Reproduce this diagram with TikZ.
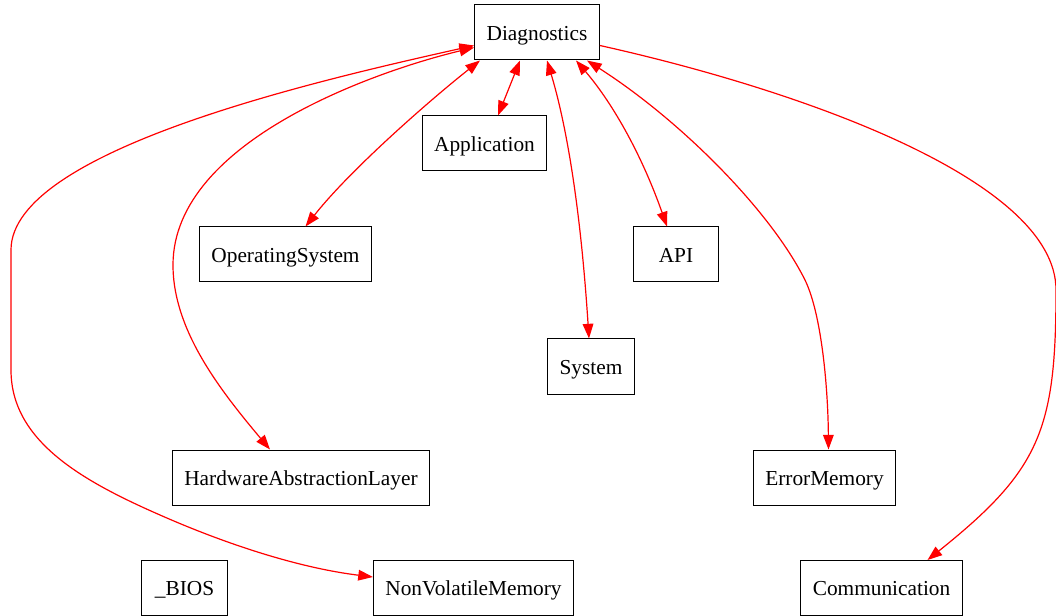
\documentclass[tikz,border=0pt]{standalone}
\usepackage{fontspec}
\setmainfont{Liberation Serif}
\usetikzlibrary{arrows.meta,calc}

\begin{document}
\begin{tikzpicture}[x=0.75pt,y=-0.75pt,
    blk/.style={draw,line width=0.75pt,minimum height=41.25pt,minimum width=64pt,inner xsep=9pt,text height=11.5pt,text depth=0pt,font=\fontsize{16}{19}\selectfont},
    link/.style={red,line width=0.9pt,-{Triangle[length=11pt,width=8pt]}},
    both/.style={link,{Triangle[length=11pt,width=8pt]}-{Triangle[length=11pt,width=8pt]}}]
  \useasboundingbox (0,0) rectangle (1056,616);
  \node[blk] (diag) at (537,32.5) {Diagnostics};
  \node[blk] (app) at (484.5,143.5) {Application};
  \node[blk] (os) at (285.5,254.5) {OperatingSystem};
  \node[blk] (api) at (676,254.5) {API};
  \node[blk] (sys) at (591,366.5) {System};
  \node[blk] (hal) at (301,477.5) {HardwareAbstractionLayer};
  \node[blk] (errmem) at (824.5,477.5) {ErrorMemory};
  \node[blk] (bios) at (184.5,588) {\_BIOS};
  \node[blk] (nvm) at (473.5,588) {NonVolatileMemory};
  \node[blk] (comm) at (881.5,588) {Communication};
  % edges out of Diagnostics
  \draw[both] ($(diag.south)+(-17,0)$) -- ($(app.north)+(13.5,0)$);
  \draw[both] ($(diag.south)+(-57,0)$) .. controls (430,100) and (350,170) .. ($(os.north)+(20,0)$);
  \draw[both] ($(diag.west)+(0,15)$) .. controls (380,70) and (173,140) .. (173,265)
    .. controls (173,330) and (220,390) .. ($(hal.north)+(-31,0)$);
  \draw[both] ($(diag.west)+(0,13)$) .. controls (320,80) and (11,150) .. (11,250) -- (11,370)
    .. controls (11,440) and (80,480) .. (160,515)
    .. controls (228,545) and (300,568) .. ($(nvm.west)+(0,-11)$);
  \draw[both] ($(diag.south)+(10,0)$) .. controls (565,120) and (580,200) .. ($(sys.north)+(-2,0)$);
  \draw[both] ($(diag.south)+(39,0)$) .. controls (610,100) and (640,150) .. ($(api.north)+(-9,0)$);
  \draw[both] ($(diag.south)+(50,0)$) .. controls (680,120) and (770,210) .. (805,280)
    .. controls (822,315) and (828,390) .. ($(errmem.north)+(4,0)$);
  \draw[link] ($(diag.east)+(0,13)$) .. controls (800,90) and (1056,180) .. (1056,290)
    .. controls (1056,430) and (1040,470) .. ($(comm.north)+(46,0)$);
\end{tikzpicture}
\end{document}
